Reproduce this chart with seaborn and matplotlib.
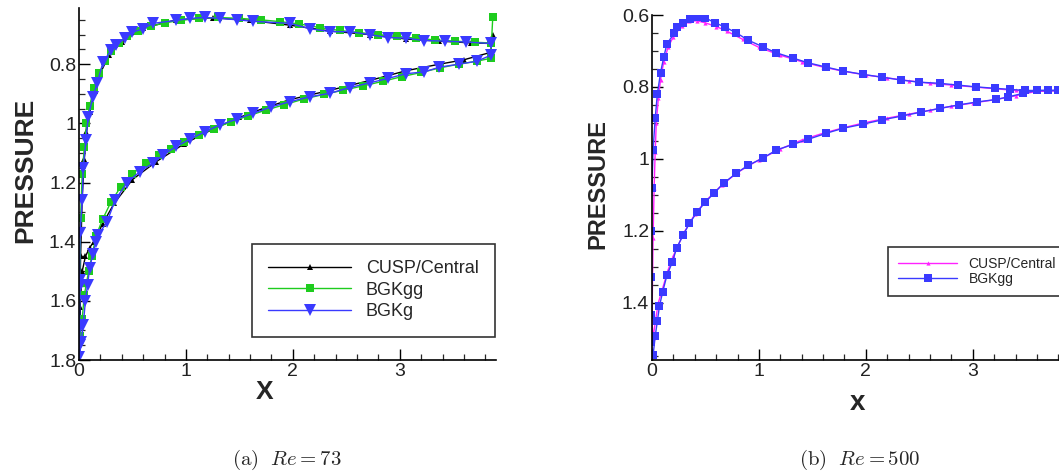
import numpy as np
import pandas as pd
import matplotlib
matplotlib.use("Agg")
import matplotlib.pyplot as plt
from matplotlib.ticker import MultipleLocator, FuncFormatter
import seaborn as sns

# ---------------- Panel (a): Re = 73 ----------------
# path: upper surface (trailing edge -> leading edge), then lower surface (LE -> TE)
a_cusp_x = [3.85, 3.67, 3.37, 3.06, 2.72, 2.35, 1.97, 1.60, 1.25, 0.91, 0.60, 0.40, 0.28, 0.20, 0.15,
            0.10, 0.07, 0.05, 0.03, 0.015, 0.0,
            0.01, 0.03, 0.06, 0.10, 0.14, 0.22, 0.33, 0.50, 0.72, 0.98, 1.25, 1.50, 1.72, 1.97,
            2.35, 2.72, 3.06, 3.37, 3.60, 3.85, 3.87]
a_cusp_p = [0.73, 0.728, 0.722, 0.715, 0.700, 0.688, 0.668, 0.652, 0.643, 0.650, 0.678, 0.725, 0.770, 0.830, 0.890,
            0.960, 1.030, 1.120, 1.250, 1.450, 1.780,
            1.620, 1.500, 1.450, 1.420, 1.400, 1.340, 1.270, 1.190, 1.130, 1.070, 1.020, 0.980, 0.950, 0.920,
            0.888, 0.855, 0.822, 0.800, 0.785, 0.760, 0.700]

a_bgkgg_x = [3.85, 3.70, 3.52, 3.33, 3.15, 2.97, 2.80, 2.62, 2.44, 2.25, 2.06, 1.88, 1.70, 1.50, 1.30,
             1.12, 0.95, 0.80, 0.67, 0.55, 0.45, 0.37, 0.30, 0.24, 0.19, 0.14, 0.10, 0.07, 0.05,
             0.03, 0.015, 0.005, 0.0,
             0.01, 0.03, 0.05, 0.07, 0.09, 0.12, 0.16, 0.22, 0.30, 0.39, 0.50, 0.63, 0.75, 0.86,
             0.98, 1.12, 1.26, 1.42, 1.58, 1.75, 1.92, 2.10, 2.29, 2.47, 2.66, 2.84, 3.02, 3.20,
             3.38, 3.55, 3.72, 3.85, 3.87]
a_bgkgg_p = [0.728, 0.726, 0.722, 0.718, 0.712, 0.706, 0.700, 0.693, 0.686, 0.676, 0.664, 0.656, 0.650, 0.645, 0.642,
             0.645, 0.652, 0.660, 0.672, 0.688, 0.705, 0.728, 0.755, 0.790, 0.830, 0.880, 0.940, 1.000, 1.080,
             1.170, 1.320, 1.580, 1.720,
             1.720, 1.660, 1.580, 1.540, 1.500, 1.450, 1.380, 1.325, 1.265, 1.215, 1.170, 1.135, 1.108, 1.085,
             1.062, 1.040, 1.018, 0.995, 0.975, 0.955, 0.937, 0.918, 0.902, 0.888, 0.873, 0.858, 0.842, 0.828,
             0.812, 0.800, 0.790, 0.780, 0.640]

a_bgkg_x = [3.85, 3.62, 3.42, 3.23, 3.06, 2.89, 2.72, 2.53, 2.35, 2.16, 1.97, 1.63, 1.48, 1.32, 1.18,
            1.04, 0.91, 0.69, 0.60, 0.50, 0.43, 0.35, 0.30, 0.225, 0.17, 0.13, 0.085, 0.065, 0.04,
            0.03, 0.01, 0.005, 0.01, 0.005, 0.01, 0.0,
            0.02, 0.04, 0.06, 0.08, 0.10, 0.13, 0.16, 0.18, 0.26, 0.34, 0.45, 0.57, 0.69, 0.79,
            0.91, 1.04, 1.18, 1.32, 1.48, 1.63, 1.80, 1.97, 2.16, 2.35, 2.53, 2.72, 2.89, 3.06,
            3.23, 3.37, 3.55, 3.72, 3.85]
a_bgkg_p = [0.730, 0.725, 0.722, 0.720, 0.712, 0.710, 0.700, 0.690, 0.690, 0.680, 0.662, 0.655, 0.650, 0.645, 0.642,
            0.645, 0.652, 0.662, 0.680, 0.692, 0.712, 0.736, 0.753, 0.793, 0.864, 0.910, 0.980, 1.056, 1.150,
            1.260, 1.370, 1.530, 1.550, 1.690, 1.750, 1.790,
            1.740, 1.680, 1.600, 1.545, 1.490, 1.440, 1.400, 1.376, 1.335, 1.258, 1.200, 1.163, 1.135, 1.106,
            1.078, 1.053, 1.028, 1.005, 0.985, 0.966, 0.944, 0.927, 0.910, 0.898, 0.879, 0.863, 0.848, 0.832,
            0.826, 0.810, 0.800, 0.790, 0.770]

a_yticks = [0.8, 1.0, 1.2, 1.4, 1.6, 1.8]
a_xticks = [0, 1, 2, 3]

# ---------------- Panel (b): Re = 500 ----------------
b_cusp_x = [3.80, 3.60, 3.40, 3.20, 3.00, 2.80, 2.60, 2.40, 2.20, 2.00, 1.80, 1.60, 1.40, 1.20, 1.00,
            0.85, 0.70, 0.60, 0.50, 0.42, 0.35, 0.28, 0.20, 0.15, 0.11, 0.08, 0.06, 0.04, 0.03, 0.02,
            0.01, 0.0,
            0.01, 0.03, 0.06, 0.10, 0.15, 0.20, 0.30, 0.40, 0.50, 0.65, 0.80, 1.00, 1.20, 1.40, 1.60,
            1.80, 2.00, 2.20, 2.40, 2.60, 2.80, 3.00, 3.20, 3.40, 3.60, 3.80]
b_cusp_p = [0.810, 0.812, 0.810, 0.805, 0.800, 0.795, 0.790, 0.783, 0.775, 0.767, 0.757, 0.745, 0.730, 0.712, 0.690,
            0.668, 0.645, 0.632, 0.622, 0.616, 0.618, 0.630, 0.660, 0.690, 0.730, 0.780, 0.830, 0.900, 0.980, 1.080,
            1.220, 1.450,
            1.500, 1.455, 1.400, 1.360, 1.310, 1.270, 1.205, 1.155, 1.118, 1.074, 1.038, 1.003, 0.973, 0.948, 0.929,
            0.913, 0.899, 0.887, 0.876, 0.865, 0.854, 0.845, 0.836, 0.825, 0.812, 0.810]

b_bgkgg_x = [3.80, 3.70, 3.60, 3.49, 3.35, 3.21, 3.03, 2.86, 2.69, 2.50, 2.33, 2.15, 1.97, 1.79, 1.63,
             1.46, 1.32, 1.16, 1.04, 0.90, 0.79, 0.68, 0.59, 0.50, 0.42, 0.36, 0.29, 0.23, 0.21, 0.14,
             0.11, 0.08, 0.05, 0.03, 0.01, 0.0, -0.01,
             -0.01, -0.01, -0.01, 0.01, 0.03, 0.05, 0.07, 0.10, 0.14, 0.19, 0.23, 0.29, 0.35, 0.42, 0.50,
             0.58, 0.67, 0.79, 0.90, 1.04, 1.16, 1.32, 1.46, 1.63, 1.79, 1.97, 2.15, 2.34, 2.52, 2.69,
             2.87, 3.04, 3.22, 3.33, 3.47, 3.60, 3.70, 3.80]
b_bgkgg_p = [0.810, 0.810, 0.810, 0.810, 0.807, 0.804, 0.800, 0.795, 0.790, 0.787, 0.781, 0.773, 0.765, 0.756, 0.745,
             0.733, 0.720, 0.705, 0.689, 0.670, 0.650, 0.633, 0.622, 0.608, 0.606, 0.611, 0.622, 0.633, 0.650, 0.680,
             0.717, 0.760, 0.820, 0.887, 0.976, 1.080, 1.200,
             1.330, 1.436, 1.510, 1.547, 1.494, 1.452, 1.410, 1.370, 1.324, 1.288, 1.249, 1.213, 1.180, 1.149, 1.120,
             1.096, 1.068, 1.040, 1.018, 0.998, 0.976, 0.960, 0.946, 0.929, 0.915, 0.904, 0.892, 0.881, 0.870, 0.860,
             0.850, 0.842, 0.835, 0.828, 0.818, 0.810, 0.810, 0.810]

b_yticks = [0.6, 0.8, 1.0, 1.2, 1.4]
b_xticks = [0, 1, 2, 3]

# ---------------- style ----------------
sns.set_style("ticks")
plt.rcParams["font.family"] = ["Liberation Sans", "DejaVu Sans"]
plt.rcParams["mathtext.fontset"] = "cm"

W, H = 1059, 476
fig = plt.figure(figsize=(W / 100, H / 100), dpi=100)

def px_axes(left, top, right, bottom):
    return fig.add_axes([left / W, 1 - bottom / H, (right - left) / W, (bottom - top) / H])

ax_a = px_axes(79, 8, 496, 360)
ax_b = px_axes(652, 15, 1069, 360)

def draw(ax, x, p, color, marker, ms, label, lw=1.0):
    df = pd.DataFrame({"x": x, "p": p})
    sns.lineplot(data=df, x="x", y="p", sort=False, estimator=None, ax=ax, color=color,
                 marker=marker, markersize=ms, markeredgewidth=0, linewidth=lw, label=label)

draw(ax_a, a_cusp_x, a_cusp_p, "black", "^", 5, "CUSP/Central")
draw(ax_a, a_bgkgg_x, a_bgkgg_p, "#1ecc1e", "s", 6, "BGKgg")
draw(ax_a, a_bgkg_x, a_bgkg_p, "#3a3aff", "v", 8, "BGKg")

draw(ax_b, b_cusp_x, b_cusp_p, "#ff22ff", "^", 3, "CUSP/Central")
draw(ax_b, b_bgkgg_x, b_bgkgg_p, "#3a3aff", "s", 6, "BGKgg")

fmt = FuncFormatter(lambda v, _: f"{v:g}")

def style_axes(ax, xticks, yticks, ylim, xlabel, xlab_size, ylab_size):
    ax.set_xlim(0, 3.9)
    ax.set_ylim(*ylim)
    ax.set_xticks(xticks)
    ax.set_yticks(yticks)
    ax.xaxis.set_minor_locator(MultipleLocator(0.2))
    ax.yaxis.set_minor_locator(MultipleLocator(0.05))
    ax.xaxis.set_major_formatter(fmt)
    ax.yaxis.set_major_formatter(fmt)
    for s in ["top", "right"]:
        ax.spines[s].set_visible(False)
    for s in ["left", "bottom"]:
        ax.spines[s].set_linewidth(1.2)
        ax.spines[s].set_color("black")
    ax.tick_params(which="major", direction="in", length=8, width=1.0, labelsize=14, pad=2,
                   colors="black")
    ax.tick_params(which="minor", direction="in", length=4, width=0.9)
    for t in ax.get_xticklabels() + ax.get_yticklabels():
        t.set_color("#222222")
    ax.set_xlabel("")
    ax.set_ylabel("")
    ax.grid(False)

style_axes(ax_a, a_xticks, a_yticks, (1.8, 0.61), "X", 18, 19)
style_axes(ax_b, b_xticks, b_yticks, (1.56, 0.6), "x", 18, 17)

# axis titles
fig.text(25 / W, 1 - 170 / H, "PRESSURE", rotation=90, ha="center", va="center",
         fontsize=19, fontweight="bold", fontstretch="condensed")
fig.text(265 / W, 1 - 392 / H, "X", ha="center", va="center", fontsize=19, fontweight="bold")
fig.text(598 / W, 1 - 184 / H, "PRESSURE", rotation=90, ha="center", va="center",
         fontsize=17, fontweight="bold")
fig.text(857 / W, 1 - 403 / H, "x", ha="center", va="center", fontsize=20, fontweight="bold")

# legends
leg_a = ax_a.legend(loc="upper left", bbox_to_anchor=((252 - 79) / 417, (360 - 244) / 352),
                    borderaxespad=0, fancybox=False, frameon=True, edgecolor="black",
                    fontsize=13, handlelength=4.6, handletextpad=0.8, labelspacing=0.25,
                    borderpad=0.9, numpoints=1)
leg_a.get_frame().set_linewidth(1.2)
leg_b = ax_b.legend(loc="upper left", bbox_to_anchor=((888 - 652) / 417, (360 - 247) / 345),
                    borderaxespad=0, fancybox=False, frameon=True, edgecolor="black",
                    fontsize=10, handlelength=4.3, handletextpad=0.8, labelspacing=0.1,
                    borderpad=0.7, numpoints=1)
leg_b.get_frame().set_linewidth(1.2)

# captions
fig.text(287 / W, 1 - 460 / H, r"$\mathrm{(a)}\ \ Re = 73$", ha="center", va="center", fontsize=15)
fig.text(860 / W, 1 - 460 / H, r"$\mathrm{(b)}\ \ Re = 500$", ha="center", va="center", fontsize=15)

fig.savefig("out.png", dpi=100)
